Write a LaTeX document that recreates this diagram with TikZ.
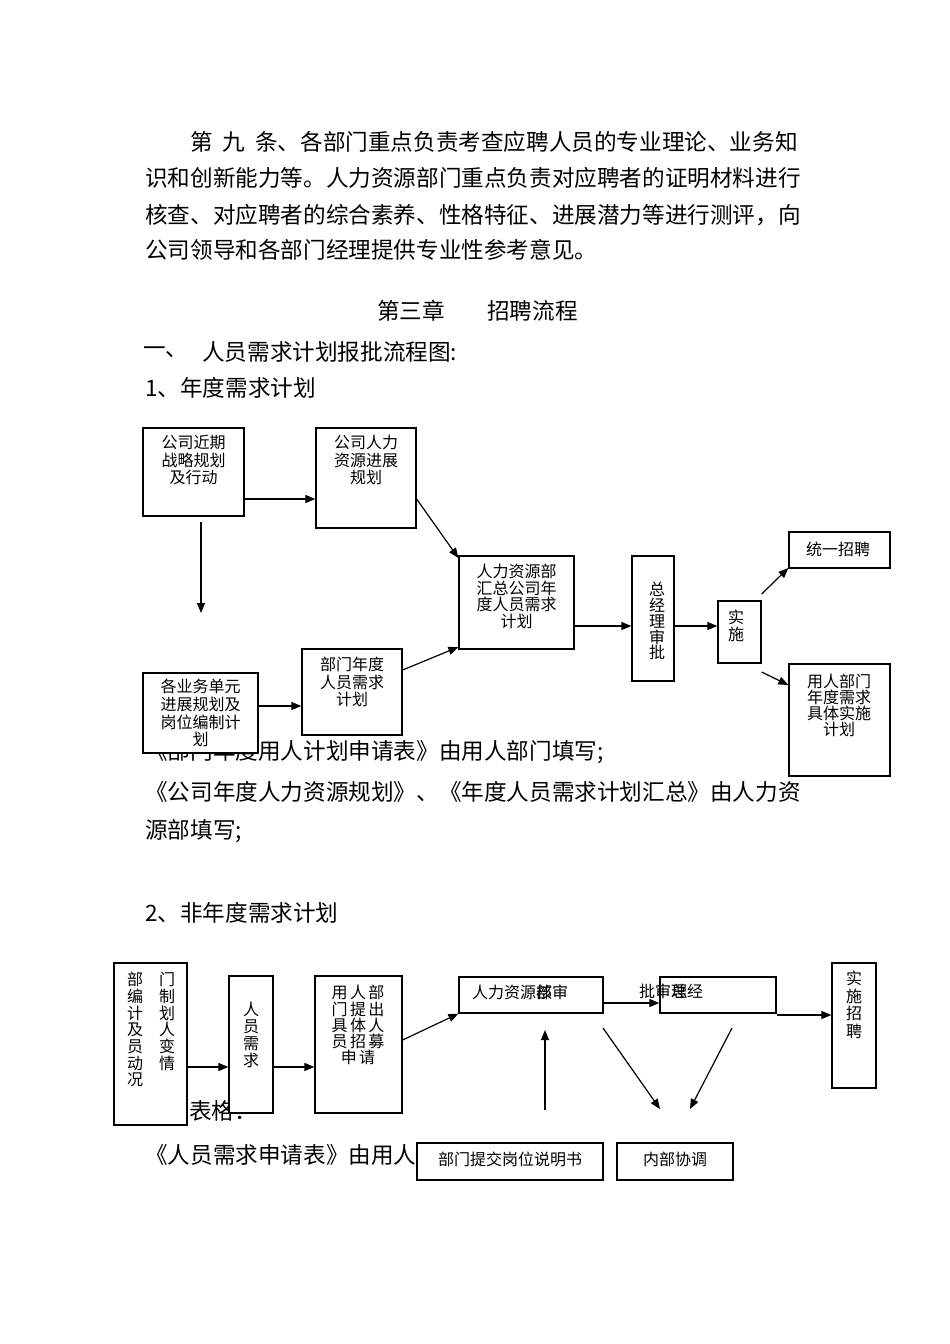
\documentclass[tikz,border=0pt]{standalone}
\usepackage{fontspec}
\setmainfont{Noto Sans CJK SC}
\usetikzlibrary{arrows.meta}
\begin{document}
\begin{tikzpicture}[x=1pt,y=-1pt,
  body/.style={anchor=west,inner sep=0pt,font=\fontsize{22.6}{26}\selectfont},
  box/.style={draw,line width=1.3pt,fill=white,inner sep=0pt},
  bt/.style={anchor=north,inner sep=0pt,align=center,font=\fontsize{16}{17.5}\selectfont},
  bc/.style={inner sep=0pt,font=\fontsize{16}{17.5}\selectfont},
  arr/.style={line width=1.2pt,-{Triangle[length=10pt,width=8pt]}}
]
\fill[white] (0,0) rectangle (950,1344);
\useasboundingbox (0,0) rectangle (950,1344);

% ---------- body text ----------
\node[body] (p1) at (190,142) {第\hspace{10pt}九\hspace{10pt}条、各部门重点负责考查应聘人员的专业理论、业务知};
\node[body] (p2) at (145,178) {识和创新能力等。人力资源部门重点负责对应聘者的证明材料进行};
\node[body] (p3) at (145,215) {核查、对应聘者的综合素养、性格特征、进展潜力等进行测评，向};
\node[body] (p4) at (145,250) {公司领导和各部门经理提供专业性参考意见。};
\node[body] (h1) at (377,311) {第三章};
\node[body] (h2) at (487,311) {招聘流程};
\node[body] (s1a) at (143,352) {一、};
\node[body] (s1b) at (202,352) {人员需求计划报批流程图:};
\node[body] (s11) at (145,388) {1、年度需求计划};
\node[body] (tb1) at (195,711) {表格：};
\node[body] (n1) at (145,752) {《部门年度用人计划申请表》由用人部门填写;};
\node[body] (n2) at (145,792) {《公司年度人力资源规划》、《年度人员需求计划汇总》由人力资};
\node[body] (n3) at (145,831) {源部填写;};
\node[body] (s12) at (145,913) {2、非年度需求计划};
\node[body] (tb2) at (189,1111) {表格：};
\node[body] (n4) at (145,1156) {《人员需求申请表》由用人部门填写;};

% ---------- chart 1 boxes ----------
\node[box,minimum width=101pt,minimum height=88pt] (A) at (193.5,472) {};
\node[box,minimum width=100pt,minimum height=100pt] (B) at (366,478) {};
\node[box,minimum width=115pt,minimum height=80pt] (C) at (200.5,713) {};
\node[box,minimum width=100pt,minimum height=86pt] (D) at (352,692) {};
\node[box,minimum width=115pt,minimum height=93pt] (E) at (516.5,602.5) {};
\node[box,minimum width=42pt,minimum height=125pt] (F) at (653,618.5) {};
\node[box,minimum width=43pt,minimum height=62pt] (G) at (739.5,632) {};
\node[box,minimum width=101pt,minimum height=36pt] (H) at (839.5,550) {};
\node[box,minimum width=101pt,minimum height=112pt] (I) at (839.5,720) {};

\node[bt] (At) at (193.5,435) {公司近期\\战略规划\\及行动};
\node[bt] (Bt) at (366,435) {公司人力\\资源进展\\规划};
\node[bt,font=\fontsize{16}{17.7}\selectfont] (Ct) at (200.5,679) {各业务单元\\进展规划及\\岗位编制计\\划};
\node[bt] (Dt) at (352,657) {部门年度\\人员需求\\计划};
\node[bt,font=\fontsize{16}{16.5}\selectfont] (Et) at (516.5,564) {人力资源部\\汇总公司年\\度人员需求\\计划};
\node[bt,font=\fontsize{16}{15.8}\selectfont] (Ft) at (657,582) {总\\经\\理\\审\\批};
\node[bt,font=\fontsize{16}{17}\selectfont] (Gt) at (736,610) {实\\施};
\node[bc] (Ht) at (838,549) {统一招聘};
\node[bt,font=\fontsize{16}{16}\selectfont] (It) at (839,674) {用人部门\\年度需求\\具体实施\\计划};

% ---------- chart 1 arrows ----------
\coordinate (va) at (201,522);
\coordinate (vb) at (201,613);
\draw[arr] (A.east |- 0,499) -- (B.west |- 0,499);
\draw[arr] (va) -- (vb);
\draw[arr] (B.east |- 0,499) -- (E.west |- 0,558);
\draw[arr] (C.east |- 0,706) -- (D.west |- 0,706);
\draw[arr] (D.east |- 0,670) -- (E.west |- 0,647);
\draw[arr] (E.east |- 0,626) -- (F.west |- 0,626);
\draw[arr] (F.east |- 0,626) -- (G.west |- 0,626);
\draw[arr] (G.east |- 0,594) -- (H.west |- 0,568);
\draw[arr] (G.east |- 0,672) -- (I.west |- 0,685);

% ---------- chart 2 boxes ----------
\node[box,minimum width=73pt,minimum height=162pt] (P) at (150.5,1044) {};
\node[box,minimum width=44pt,minimum height=137pt] (Q) at (251,1044.5) {};
\node[box,minimum width=87pt,minimum height=137pt] (R) at (358.5,1044.5) {};
\node[box,minimum width=144pt,minimum height=36pt] (U) at (531,995) {};
\node[box,minimum width=116pt,minimum height=36pt] (V) at (718,995) {};
\node[box,minimum width=44pt,minimum height=125pt] (W) at (854,1025.5) {};
\node[box,minimum width=186pt,minimum height=37pt] (S) at (510,1161.5) {};
\node[box,minimum width=116pt,minimum height=37pt] (T) at (675,1161.5) {};

\node[bt,font=\fontsize{16}{16.7}\selectfont] (Pt1) at (135,972) {部\\编\\计\\及\\员\\动\\况};
\node[bt,font=\fontsize{16}{16.7}\selectfont] (Pt2) at (167,972) {门\\制\\划\\人\\变\\情};
\node[bt,font=\fontsize{16}{17}\selectfont] (Qt) at (251,1002) {人\\员\\需\\求};
\node[bt,font=\fontsize{16}{16.3}\selectfont] (Rt) at (358,985) {用\hspace{2.5pt}人\hspace{2.5pt}部\\门\hspace{2.5pt}提\hspace{2.5pt}出\\具\hspace{2.5pt}体\hspace{2.5pt}人\\员\hspace{2.5pt}招\hspace{2.5pt}募\\申\hspace{2.5pt}请};
\node[bc,anchor=west] (Ut) at (472,992) {人力资源\rlap{部}核审};
\node[bc,anchor=west] (Vt) at (639,991) {批审\rlap{理}总经};
\node[bt,font=\fontsize{16}{17.5}\selectfont] (Wt) at (854,971) {实\\施\\招\\聘};
\node[bc] (St) at (510,1159) {部门提交岗位说明书};
\node[bc] (Tt) at (675,1159) {内部协调};

% ---------- chart 2 arrows ----------
\coordinate (ua) at (545,1110);
\coordinate (ub) at (545,1030);
\coordinate (da1) at (603,1028);
\coordinate (db1) at (660,1109);
\coordinate (da2) at (732,1028);
\coordinate (db2) at (690,1109);
\draw[arr] (P.east |- 0,1067) -- (Q.west |- 0,1067);
\draw[arr] (Q.east |- 0,1067) -- (R.west |- 0,1067);
\draw[arr] (R.east |- 0,1040) -- (U.south west);
\draw[arr] (U.east |- 0,1003) -- (V.west |- 0,1003);
\draw[arr] (V.east |- 0,1015) -- (W.west |- 0,1015);
\draw[arr] (ua) -- (ub);
\draw[arr] (da1) -- (db1);
\draw[arr] (da2) -- (db2);
\end{tikzpicture}
\end{document}
